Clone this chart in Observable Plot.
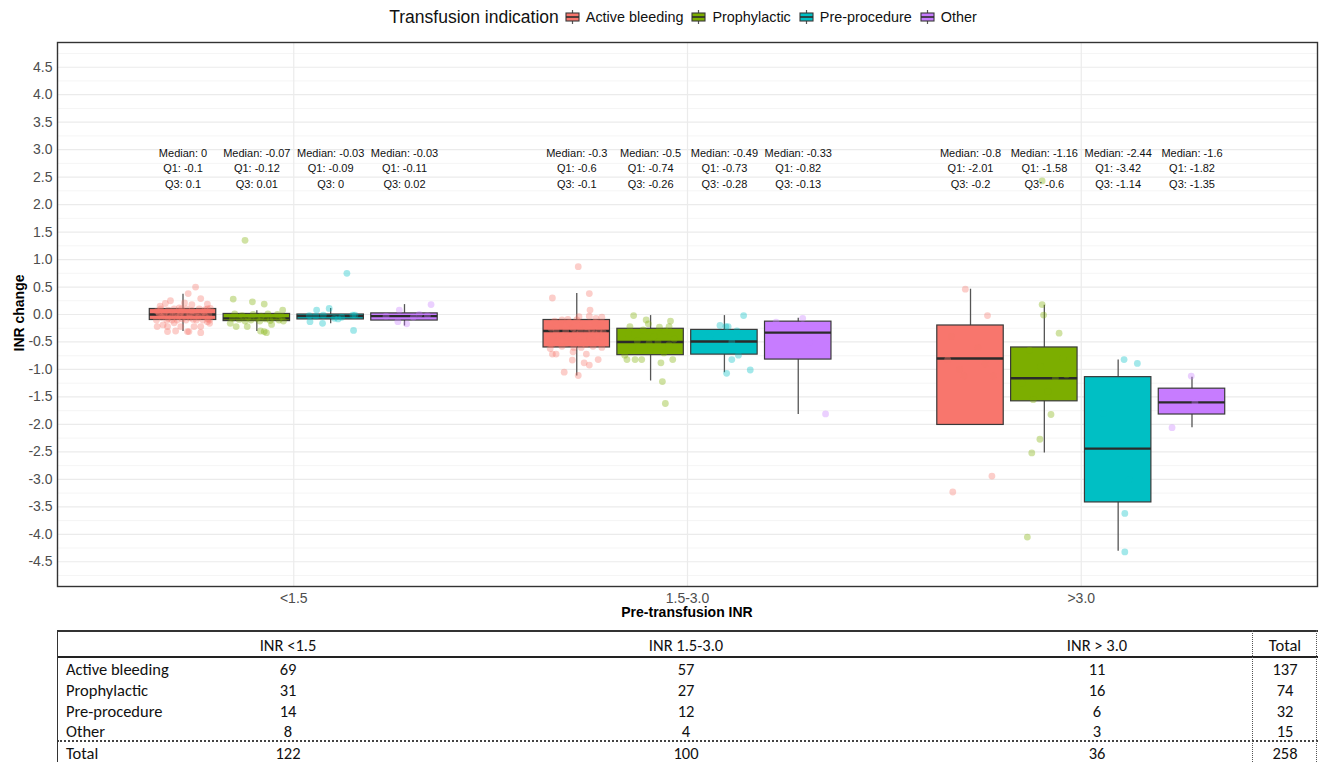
<!DOCTYPE html>
<html>
<head>
<meta charset="utf-8">
<script src="https://cdn.jsdelivr.net/npm/d3@7"></script>
<script src="https://cdn.jsdelivr.net/npm/@observablehq/plot@0.6"></script>
<style>
  body { margin: 0; background: #fff; font-family: "Liberation Sans", Arial, sans-serif; }
  #wrap { position: relative; width: 1319px; height: 762px; overflow: hidden; }
  #legend { height: 34px; display: flex; align-items: center; justify-content: center;
            padding-left: 57px; padding-right: 2px; box-sizing: border-box; color: #111; }
  #legend .title { font-size: 17.5px; margin-right: 6px; }
  #legend .item { display: flex; align-items: center; font-size: 14.4px; margin-right: 8px; }
  #legend .item svg { margin-right: 6px; }
  #chart svg { display: block; }
  .axis-title { position: absolute; font-weight: bold; font-size: 14px; color: #000; white-space: nowrap; }
  #ytitle { left: 19px; top: 313px; transform: translate(-50%, -50%) rotate(-90deg); }
  #xtitle { left: 687px; top: 612px; transform: translate(-50%, -50%); }
  #table { position: absolute; left: 0; top: 0; width: 1319px; height: 762px; pointer-events: none;
           font-family: Carlito, Lato, "Liberation Sans", sans-serif; font-size: 16.5px; color: #111; }
  #table .cell { position: absolute; transform: translate(-50%, -50%); white-space: nowrap; }
  #table .rowlab { position: absolute; transform: translateY(-50%); white-space: nowrap; }
  #table .hline { position: absolute; height: 0; }
  #table .vline { position: absolute; width: 0; }
</style>
</head>
<body>
<div id="wrap">
  <div id="legend"></div>
  <div id="chart"></div>
  <div id="ytitle" class="axis-title">INR change</div>
  <div id="xtitle" class="axis-title">Pre-transfusion INR</div>
  <div id="table"></div>
</div>
<script>
// Pre-transfusion INR groups and transfusion indications
const groups = ["<1.5", "1.5-3.0", ">3.0"];
const indications = ["Active bleeding", "Prophylactic", "Pre-procedure", "Other"];
const colors = ["#F8766D", "#7CAE00", "#00BFC4", "#C77CFF"];

// Box statistics per group (rows) and indication (columns)
const medians = [[0, -0.07, -0.03, -0.03], [-0.3, -0.5, -0.49, -0.33], [-0.8, -1.16, -2.44, -1.6]];
const q1s     = [[-0.1, -0.12, -0.09, -0.11], [-0.6, -0.74, -0.73, -0.82], [-2.01, -1.58, -3.42, -1.82]];
const q3s     = [[0.1, 0.01, 0, 0.02], [-0.1, -0.26, -0.28, -0.13], [-0.2, -0.6, -1.14, -1.35]];
const whiskerLow  = [[-0.31, -0.31, -0.17, -0.21], [-1.12, -1.21, -1.06, -1.82], [-2.01, -2.52, -4.31, -2.06]];
const whiskerHigh = [[0.37, 0.07, 0.11, 0.18], [0.38, -0.02, -0.02, -0.07], [0.46, 0.17, -0.83, -1.14]];

// Patient counts per group (rows) and indication (columns)
const counts = [[69, 31, 14, 8], [57, 27, 12, 4], [11, 16, 6, 3]];

// Individual INR changes: [change, horizontal jitter in dodge-slot units], per indication
const pointsLow = [
  [[0.50,0.17],[0.38,0.07],[0.29,0.24],[0.25,-0.17],[0.20,-0.24],[0.18,0.12],[0.19,0.33],[0.15,-0.31],[0.11,0.37],[0.12,-0.05],[0.21,0.02],
   [-0.13,0.33],[-0.19,-0.27],[-0.22,-0.35],[-0.22,-0.21],[-0.22,-0.03],[-0.22,0.15],[-0.22,0.24],[-0.30,-0.10],[-0.31,-0.21],[-0.31,0.06],[-0.31,0.08],[-0.33,0.24],[-0.16,0.36],[-0.15,-0.12],
   [0.10,-0.30],[0.10,-0.12],[0.10,0.05],[0.10,0.22],[0.09,0.30],[0.08,-0.20],[0.07,0.12],[0.06,-0.35],[0.05,-0.02],[0.05,0.28],[0.04,0.18],[0.03,-0.25],[0.02,0.08],[0.01,-0.10],
   [0.00,-0.32],[0.00,-0.18],[0.00,-0.04],[0.00,0.10],[0.00,0.25],[0.00,0.35],[0.00,-0.26],[0.00,0.02],[-0.01,0.16],[-0.02,-0.14],[-0.03,0.30],[-0.04,-0.06],[-0.05,0.21],[-0.05,-0.29],
   [-0.06,0.09],[-0.07,-0.20],[-0.08,0.34],[-0.08,-0.01],[-0.09,0.14],[-0.10,-0.36],[-0.10,-0.22],[-0.10,-0.08],[-0.10,0.04],[-0.10,0.18],[-0.10,0.27],[-0.10,0.36],[-0.10,-0.15],[0.10,0.33],[0.10,-0.02],[0.04,-0.33]],
  [[1.35,-0.16],[0.28,-0.32],[0.23,-0.06],[0.19,0.10],[0.08,0.35],[-0.22,-0.28],[-0.22,-0.13],[-0.31,0.10],[-0.33,0.13],[-0.30,0.05],[-0.18,0.20],[-0.16,-0.36],
   [0.01,-0.30],[0.01,0.15],[0.00,-0.05],[0.00,0.28],[-0.02,-0.20],[-0.03,0.06],[-0.04,0.34],[-0.05,-0.12],[-0.06,0.22],[-0.07,-0.33],[-0.07,0.00],[-0.08,0.12],[-0.09,-0.24],[-0.10,0.30],[-0.10,-0.08],[-0.11,0.18],[-0.12,-0.16],[-0.12,0.04],[-0.12,0.36]],
  [[0.75,0.22],[0.08,-0.19],[0.11,-0.02],[-0.02,-0.29],[-0.01,-0.10],[-0.13,-0.28],[-0.16,-0.11],[-0.07,0.05],[-0.01,0.30],[-0.01,0.33],[-0.29,0.31],[-0.05,0.15],[-0.03,-0.20],[-0.08,0.10]],
  [[0.18,0.36],[0.08,-0.07],[-0.13,-0.09],[-0.17,0.03],[-0.02,0.31],[-0.03,-0.25],[-0.05,0.12],[0.00,0.20]]
];
const pointsMid = [
  [[0.87,0.02],[0.30,-0.33],[0.38,0.17],[0.08,0.18],[-0.04,0.03],[-0.03,0.17],[-0.07,0.26],[-0.05,0.34],[-0.10,-0.20],[-0.09,-0.12],
   [-0.72,-0.33],[-0.72,-0.28],[-0.68,-0.05],[-0.83,-0.06],[-0.72,0.13],[-0.88,0.10],[-0.92,0.17],[-0.82,0.29],[-1.05,-0.17],[-1.11,0.02],[-0.60,0.34],[-0.62,-0.36],
   [-0.10,0.00],[-0.12,-0.30],[-0.15,0.25],[-0.15,-0.10],[-0.18,0.08],[-0.20,-0.22],[-0.20,0.32],[-0.22,0.12],[-0.25,-0.05],[-0.25,-0.35],
   [-0.28,0.20],[-0.30,-0.15],[-0.30,0.05],[-0.30,0.30],[-0.30,-0.28],[-0.32,0.14],[-0.35,-0.02],[-0.35,0.24],[-0.38,-0.20],[-0.40,0.10],
   [-0.40,-0.32],[-0.42,0.35],[-0.45,-0.08],[-0.45,0.18],[-0.48,-0.26],[-0.50,0.02],[-0.50,0.28],[-0.52,-0.14],[-0.55,0.12],[-0.55,-0.34],
   [-0.58,0.22],[-0.60,-0.04],[-0.60,0.06],[-0.58,-0.20],[-0.33,0.36]],
  [[-0.02,-0.23],[-0.10,-0.06],[-0.17,-0.03],[-0.22,-0.28],[-0.23,0.12],[-0.22,0.25],[-0.12,0.27],[-0.82,-0.32],[-0.82,-0.21],[-0.82,-0.12],[-0.88,0.14],[-0.82,0.30],[-1.22,0.16],[-1.62,0.20],
   [-0.28,-0.10],[-0.30,0.20],[-0.35,-0.30],[-0.40,0.05],[-0.45,0.32],[-0.48,-0.18],[-0.50,0.10],[-0.52,-0.02],[-0.55,0.25],[-0.60,-0.25],[-0.65,0.00],[-0.70,0.18],[-0.74,-0.35]],
  [[-0.02,0.26],[-0.22,0.02],[-0.22,0.05],[-0.30,0.17],[-0.74,0.19],[-0.82,0.10],[-1.07,0.03],[-1.01,0.35],[-0.20,-0.06],[-0.40,-0.20],[-0.50,0.10],[-0.62,-0.30]],
  [[-0.07,0.06],[-1.81,0.37],[-0.14,-0.30],[-0.50,0.15]]
];
const pointsHigh = [
  [[0.46,-0.07],[-0.02,0.23],[-0.40,-0.26],[-0.82,-0.31],[-1.12,-0.09],[-1.12,0.31],[-2.94,0.29],[-3.23,-0.24],[-0.60,0.10],[-0.90,0.20],[-1.00,-0.15]],
  [[2.43,-0.03],[0.18,-0.03],[-0.01,-0.01],[-0.34,0.20],[-1.82,0.09],[-2.27,-0.06],[-2.52,-0.17],[-4.05,-0.23],
   [-0.65,-0.20],[-0.80,0.25],[-0.95,-0.05],[-1.10,0.30],[-1.16,0.15],[-1.25,-0.30],[-1.40,0.05],[-1.55,-0.15]],
  [[-0.82,0.08],[-0.89,0.26],[-3.62,0.09],[-4.32,0.09],[-1.80,-0.20],[-3.00,0.15]],
  [[-1.12,-0.01],[-2.06,-0.27],[-1.60,0.04]]
];

// Axis ticks
const yTicks = [-4.5, -4, -3.5, -3, -2.5, -2, -1.5, -1, -0.5, 0, 0.5, 1, 1.5, 2, 2.5, 3, 3.5, 4, 4.5];
const xTicks = [1, 2, 3];

// ---- derived tables -------------------------------------------------------
const dodgeWidth = 0.75;
const slot = dodgeWidth / indications.length;   // width of one dodged box slot
const boxFrac = 0.9;                            // box width as a fraction of its slot
const center = (g, j) => g + 1 + (j - (indications.length - 1) / 2) * slot;

const stats = [];
groups.forEach((grp, g) => indications.forEach((ind, j) => {
  stats.push({group: grp, indication: ind, g, j,
    median: medians[g][j], q1: q1s[g][j], q3: q3s[g][j],
    lo: whiskerLow[g][j], hi: whiskerHigh[g][j]});
}));

const points = [];
[pointsLow, pointsMid, pointsHigh].forEach((byInd, g) => byInd.forEach((pts, j) => {
  pts.forEach(([value, jitter]) => points.push({g, j, indication: indications[j], value, jitter}));
}));

// minor gridlines sit midway between major ticks (and just beyond the ends)
const minorTicks = yTicks.map(t => t - 0.25).concat([yTicks[yTicks.length - 1] + 0.25]);

const chart = Plot.plot({
  width: 1319,
  height: 588,
  marginLeft: 57,
  marginRight: 2,
  marginTop: 8,
  marginBottom: 36,
  style: {fontFamily: "'Liberation Sans', Arial, sans-serif", fontSize: "14px", color: "#4d4d4d", background: "#fff"},
  x: {domain: [0.4, 3.6]},
  y: {domain: [-4.95, 4.95]},
  color: {domain: indications, range: colors},
  marks: [
    Plot.ruleY(minorTicks, {stroke: "#f3f3f3", strokeWidth: 0.8}),
    Plot.ruleY(yTicks, {stroke: "#ebebeb", strokeWidth: 1.2}),
    Plot.ruleX(xTicks, {stroke: "#ebebeb", strokeWidth: 1.2}),
    Plot.axisY(yTicks, {tickSize: 0, tickPadding: 5, tickFormat: d => d.toFixed(1), label: null, fontSize: 14, color: "#4d4d4d"}),
    Plot.axisX(xTicks, {tickSize: 0, tickPadding: 7, tickFormat: d => groups[d - 1], label: null, fontSize: 14, color: "#4d4d4d"}),
    // whiskers
    Plot.ruleX(stats, {x: d => center(d.g, d.j), y1: "lo", y2: "hi", stroke: "#555", strokeWidth: 1.3}),
    // boxes from Q1 to Q3
    Plot.rect(stats, {
      x1: d => center(d.g, d.j) - boxFrac * slot / 2,
      x2: d => center(d.g, d.j) + boxFrac * slot / 2,
      y1: "q1", y2: "q3", fill: "indication", stroke: "#3a3a3a", strokeWidth: 1.2
    }),
    // medians
    Plot.ruleY(stats, {
      y: "median",
      x1: d => center(d.g, d.j) - boxFrac * slot / 2,
      x2: d => center(d.g, d.j) + boxFrac * slot / 2,
      stroke: "#2b2b2b", strokeWidth: 2.4
    }),
    // jittered observations
    Plot.dot(points, {x: d => center(d.g, d.j) + d.jitter * slot, y: "value", r: 3.4, fill: "indication", fillOpacity: 0.36, stroke: null}),
    // summary labels above each box
    Plot.text(stats, {
      x: d => center(d.g, d.j), y: 2.68,
      text: d => `Median: ${d.median}\nQ1: ${d.q1}\nQ3: ${d.q3}`,
      fontSize: 11, lineHeight: 1.41, lineAnchor: "middle", fill: "#111"
    }),
    Plot.frame({stroke: "#333", strokeWidth: 1.4})
  ]
});
document.getElementById("chart").appendChild(chart);

// ---- legend ---------------------------------------------------------------
const legend = document.getElementById("legend");
const lt = document.createElement("span");
lt.className = "title";
lt.textContent = "Transfusion indication";
legend.appendChild(lt);
indications.forEach((ind, j) => {
  const item = document.createElement("span");
  item.className = "item";
  item.innerHTML =
    `<svg width="15" height="16" viewBox="0 0 15 16">
       <line x1="7.5" y1="1" x2="7.5" y2="15" stroke="#555" stroke-width="1.2"/>
       <rect x="1" y="4" width="13" height="8" fill="${colors[j]}" stroke="#3a3a3a" stroke-width="1.1"/>
       <line x1="1" y1="8" x2="14" y2="8" stroke="#2b2b2b" stroke-width="1.6"/>
     </svg>`;
  const lab = document.createElement("span");
  lab.textContent = ind;
  item.appendChild(lab);
  legend.appendChild(item);
});

// ---- counts table ---------------------------------------------------------
const table = document.getElementById("table");
const colX = [288, 686, 1097, 1285];
const headers = ["INR <1.5", "INR 1.5-3.0", "INR > 3.0", "Total"];
const rowY = [669, 690, 711, 731];
const add = (cls, text, styles) => {
  const el = document.createElement("div");
  el.className = cls;
  if (text != null) el.textContent = text;
  Object.assign(el.style, styles);
  table.appendChild(el);
};
headers.forEach((h, c) => add("cell", h, {left: colX[c] + "px", top: "645px"}));
indications.forEach((ind, j) => {
  add("rowlab", ind, {left: "66px", top: rowY[j] + "px"});
  groups.forEach((_, g) => add("cell", String(counts[g][j]), {left: colX[g] + "px", top: rowY[j] + "px"}));
  add("cell", String(d3.sum(counts, r => r[j])), {left: colX[3] + "px", top: rowY[j] + "px"});
});
add("rowlab", "Total", {left: "66px", top: "753px"});
groups.forEach((_, g) => add("cell", String(d3.sum(counts[g])), {left: colX[g] + "px", top: "753px"}));
add("cell", String(d3.sum(counts.flat())), {left: colX[3] + "px", top: "753px"});
// rules of the table
add("hline", null, {left: "57px", width: "1261px", top: "630px", borderTop: "2px solid #333"});
add("hline", null, {left: "57px", width: "1261px", top: "656px", borderTop: "2px solid #222"});
add("hline", null, {left: "57px", width: "1261px", top: "740px", borderTop: "2px dotted #444"});
add("vline", null, {left: "57px", top: "630px", height: "140px", borderLeft: "1.5px solid #333"});
add("vline", null, {left: "1252px", top: "630px", height: "140px", borderLeft: "1px dotted #555"});
add("vline", null, {left: "1316px", top: "630px", height: "140px", borderLeft: "1px dotted #555"});
</script>
</body>
</html>
